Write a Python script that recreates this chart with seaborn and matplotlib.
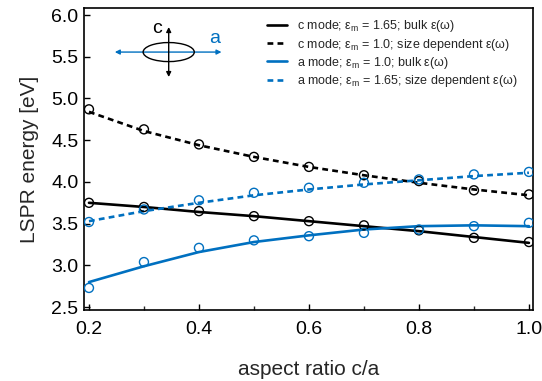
import numpy as np
import pandas as pd
import matplotlib
matplotlib.use("Agg")
import matplotlib.pyplot as plt
from matplotlib.patches import Ellipse
from matplotlib.ticker import MultipleLocator
import seaborn as sns

# ---- data ----
aspect = [0.2, 0.3, 0.4, 0.5, 0.6, 0.7, 0.8, 0.9, 1.0]

# simulated points (open circles)
c_bulk_pts = [3.75, 3.70, 3.65, 3.59, 3.53, 3.48, 3.42, 3.33, 3.28]
c_size_pts = [4.87, 4.63, 4.45, 4.30, 4.18, 4.08, 4.01, 3.90, 3.85]
a_bulk_pts = [2.73, 3.04, 3.21, 3.30, 3.35, 3.39, 3.43, 3.47, 3.51]
a_size_pts = [3.52, 3.67, 3.78, 3.87, 3.93, 3.99, 4.03, 4.09, 4.12]

# fitted curves (lines)
c_bulk_fit = [3.75, 3.70, 3.64, 3.59, 3.53, 3.47, 3.41, 3.34, 3.27]
c_size_fit = [4.84, 4.61, 4.44, 4.30, 4.18, 4.08, 3.99, 3.91, 3.84]
a_bulk_fit = [2.80, 2.99, 3.16, 3.28, 3.36, 3.43, 3.47, 3.48, 3.47]
a_size_fit = [3.53, 3.65, 3.75, 3.84, 3.91, 3.97, 4.02, 4.07, 4.11]

labels = [
    "c mode; ε$_\\mathregular{m}$ = 1.65; bulk ε(ω)",
    "c mode; ε$_\\mathregular{m}$ = 1.0; size dependent ε(ω)",
    "a mode; ε$_\\mathregular{m}$ = 1.0; bulk ε(ω)",
    "a mode; ε$_\\mathregular{m}$ = 1.65; size dependent ε(ω)",
]
xticks = [0.2, 0.4, 0.6, 0.8, 1.0]
yticks = [2.5, 3.0, 3.5, 4.0, 4.5, 5.0, 5.5, 6.0]

BLUE = "#0070C0"
BLACK = "#000000"

sns.set_style("ticks")
plt.rcParams["font.family"] = ["Liberation Sans", "DejaVu Sans"]
plt.rcParams["mathtext.fontset"] = "custom"
plt.rcParams["mathtext.rm"] = "Liberation Sans"

fig = plt.figure(figsize=(5.42, 3.81), dpi=100)
ax = fig.add_axes([0.155, 0.186, 0.828, 0.793])

series = [
    (c_bulk_fit, c_bulk_pts, BLACK, "-", labels[0]),
    (c_size_fit, c_size_pts, BLACK, (0, (2.2, 1.6)), labels[1]),
    (a_bulk_fit, a_bulk_pts, BLUE, "-", labels[2]),
    (a_size_fit, a_size_pts, BLUE, (0, (2.2, 1.6)), labels[3]),
]

for fit, pts, col, ls, lab in series:
    df_fit = pd.DataFrame({"x": aspect, "y": fit})
    sns.lineplot(data=df_fit, x="x", y="y", ax=ax, color=col, lw=1.9,
                 linestyle=ls, label=lab, zorder=2)
for fit, pts, col, ls, lab in series:
    df_pts = pd.DataFrame({"x": aspect, "y": pts})
    sns.scatterplot(data=df_pts, x="x", y="y", ax=ax, s=42, marker="o",
                    facecolor="none", edgecolor=col, linewidth=1.0, zorder=3)

ax.set_xlim(0.191, 1.007)
ax.set_ylim(2.464, 6.084)
ax.set_xticks(xticks)
ax.set_xticklabels([f"{t:.1f}" for t in xticks])
ax.set_yticks(yticks)
ax.set_yticklabels([f"{t:.1f}" for t in yticks])
ax.xaxis.set_minor_locator(MultipleLocator(0.1))
ax.tick_params(axis="both", which="major", direction="in", length=4.5,
               width=1.0, labelsize=14, colors="black")
ax.tick_params(axis="x", which="major", pad=8)
ax.tick_params(axis="y", which="major", pad=4)
ax.tick_params(axis="x", which="minor", direction="in", length=3, width=1.0)
for sp in ax.spines.values():
    sp.set_linewidth(1.2)
    sp.set_color("black")
    sp.set_visible(True)

ax.set_xlabel("aspect ratio c/a", fontsize=15, labelpad=16)
ax.set_ylabel("LSPR energy [eV]", fontsize=15, labelpad=9)

leg = ax.legend(loc="upper right", bbox_to_anchor=(0.985, 0.995), frameon=False,
                fontsize=9, handlelength=1.6, handletextpad=0.8,
                labelspacing=0.18, borderaxespad=0.3)

# inset: ellipsoid sketch
ax.add_patch(Ellipse((0.345, 5.556), 0.093, 0.228, fill=False,
                     edgecolor="black", lw=1.0, zorder=4))
ax.annotate("", xy=(0.441, 5.556), xytext=(0.247, 5.556),
            arrowprops=dict(arrowstyle="<|-|>", color=BLUE, lw=1.0,
                            mutation_scale=7, shrinkA=0, shrinkB=0))
ax.annotate("", xy=(0.345, 5.856), xytext=(0.345, 5.257),
            arrowprops=dict(arrowstyle="<|-|>", color="black", lw=1.0,
                            mutation_scale=7, shrinkA=0, shrinkB=0))
ax.text(0.333, 5.84, "c", fontsize=14, color="black", ha="right", va="center")
ax.text(0.418, 5.72, "a", fontsize=14, color=BLUE, ha="left", va="center")

fig.savefig("out.png", dpi=100)
